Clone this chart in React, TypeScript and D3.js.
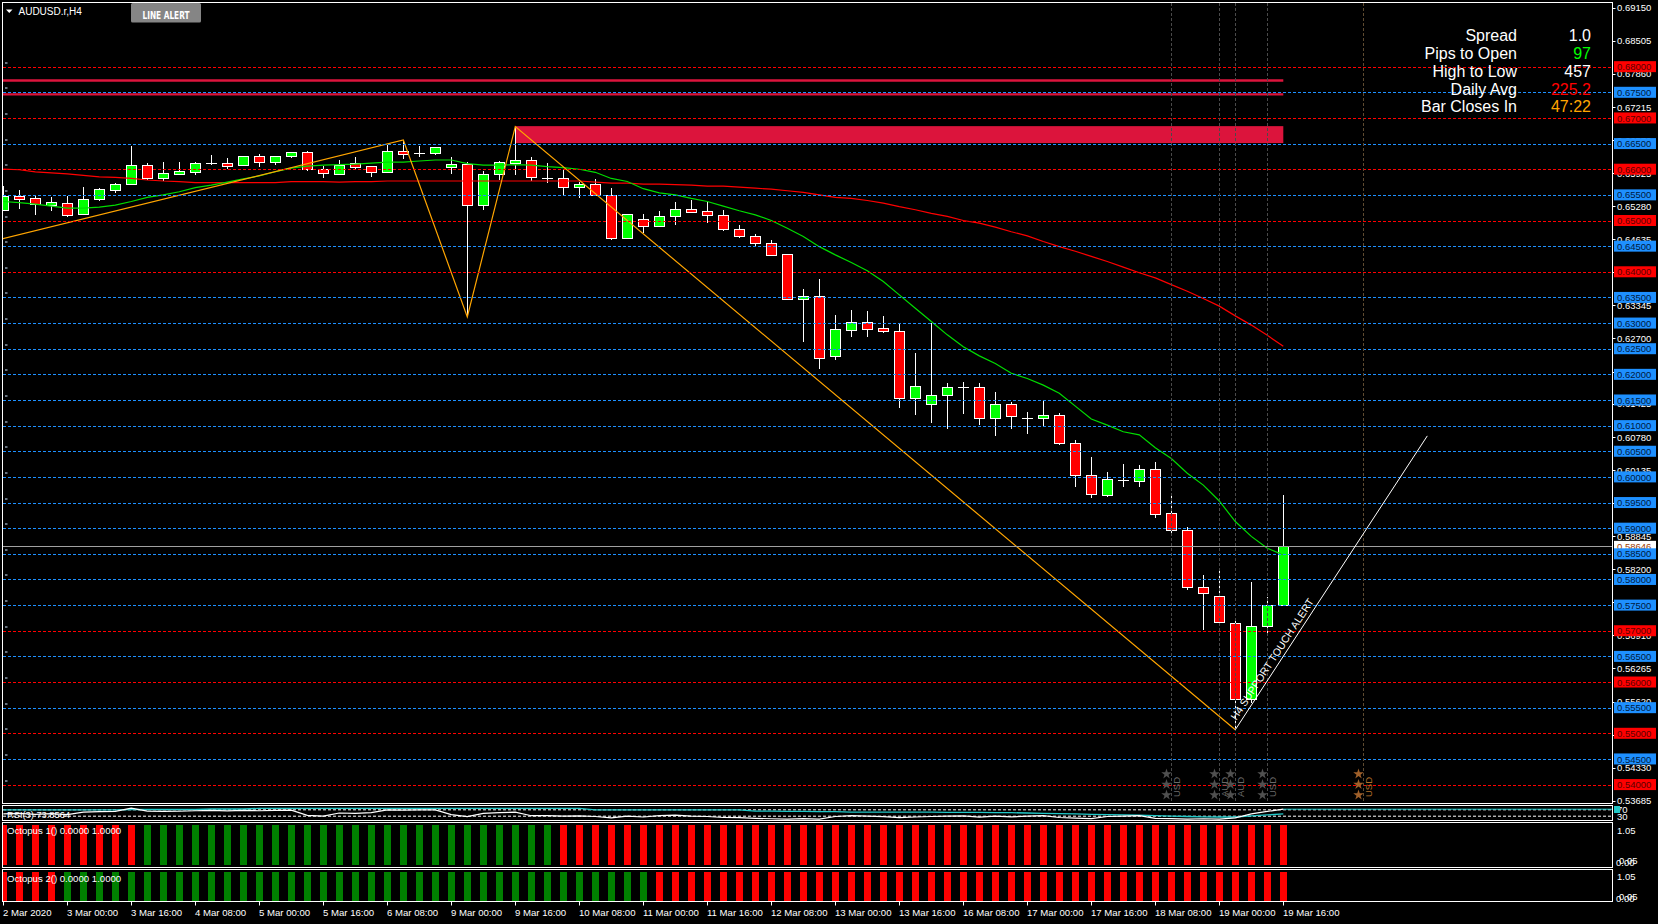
import React from 'react';
import * as d3 from 'd3';

const W = 1658;
const H = 924;
const FONT = "'Liberation Sans', Arial, sans-serif";

// x axis labels, one every 4 H4 bars
const timeLabels = [
  '2 Mar 2020', '3 Mar 00:00', '3 Mar 16:00', '4 Mar 08:00', '5 Mar 00:00', '5 Mar 16:00',
  '6 Mar 08:00', '9 Mar 00:00', '9 Mar 16:00', '10 Mar 08:00', '11 Mar 00:00', '11 Mar 16:00',
  '12 Mar 08:00', '13 Mar 00:00', '13 Mar 16:00', '16 Mar 08:00', '17 Mar 00:00', '17 Mar 16:00',
  '18 Mar 08:00', '19 Mar 00:00', '19 Mar 16:00',
];

const opens = [
  0.6520, 0.6548, 0.6543, 0.6531, 0.6535, 0.6511, 0.6541, 0.6560, 0.6570, 0.6608,
  0.6582, 0.6592, 0.6595, 0.6613, 0.6613, 0.6607, 0.6625, 0.6613, 0.6625, 0.6633,
  0.6600, 0.6592, 0.6612, 0.6607, 0.6596, 0.6636, 0.6631, 0.6631, 0.6604, 0.6610,
  0.6530, 0.6590, 0.6613, 0.6618, 0.6582, 0.6582, 0.6565, 0.6571, 0.6549, 0.6466,
  0.6503, 0.6489, 0.6508, 0.6522, 0.6518, 0.6510, 0.6483, 0.6469, 0.6456, 0.6434,
  0.6346, 0.6352, 0.6235, 0.6288, 0.6303, 0.6290, 0.6284, 0.6153, 0.6142, 0.6159,
  0.6175, 0.6175, 0.6114, 0.6142, 0.6114, 0.6114, 0.6120, 0.6066, 0.6003, 0.5963,
  0.5994, 0.5993, 0.6016, 0.5929, 0.5896, 0.5785, 0.5767, 0.5716, 0.5568, 0.5710,
  0.5750,
];
const highs = [
  0.6567, 0.6560, 0.6548, 0.6545, 0.6548, 0.6565, 0.6563, 0.6573, 0.6645, 0.6612,
  0.6614, 0.6614, 0.6614, 0.6628, 0.6622, 0.6625, 0.6630, 0.6625, 0.6633, 0.6635,
  0.6606, 0.6618, 0.6624, 0.6607, 0.6648, 0.6657, 0.6646, 0.6643, 0.6623, 0.6614,
  0.6596, 0.6616, 0.6683, 0.6623, 0.6612, 0.6599, 0.6576, 0.6581, 0.6563, 0.6512,
  0.6513, 0.6518, 0.6536, 0.6540, 0.6536, 0.6521, 0.6491, 0.6474, 0.6462, 0.6434,
  0.6366, 0.6386, 0.6316, 0.6325, 0.6324, 0.6314, 0.6301, 0.6242, 0.6301, 0.6183,
  0.6185, 0.6183, 0.6166, 0.6147, 0.6126, 0.6149, 0.6124, 0.6071, 0.6039, 0.6010,
  0.6025, 0.6023, 0.6029, 0.5964, 0.5902, 0.5809, 0.5817, 0.5724, 0.5795, 0.5766,
  0.5964,
];
const lows = [
  0.6519, 0.6523, 0.6511, 0.6519, 0.6507, 0.6511, 0.6539, 0.6554, 0.6570, 0.6579,
  0.6578, 0.6592, 0.6589, 0.6609, 0.6601, 0.6607, 0.6605, 0.6609, 0.6621, 0.6597,
  0.6582, 0.6588, 0.6599, 0.6584, 0.6594, 0.6620, 0.6623, 0.6627, 0.6591, 0.6312,
  0.6521, 0.6579, 0.6588, 0.6578, 0.6573, 0.6550, 0.6543, 0.6547, 0.6461, 0.6463,
  0.6475, 0.6488, 0.6492, 0.6515, 0.6496, 0.6480, 0.6465, 0.6451, 0.6433, 0.6346,
  0.6263, 0.6211, 0.6228, 0.6272, 0.6272, 0.6281, 0.6135, 0.6121, 0.6106, 0.6094,
  0.6123, 0.6102, 0.6079, 0.6094, 0.6084, 0.6098, 0.6063, 0.5981, 0.5958, 0.5961,
  0.5981, 0.5981, 0.5919, 0.5891, 0.5780, 0.5701, 0.5716, 0.5507, 0.5559, 0.5690,
  0.5750,
];
const closes = [
  0.6547, 0.6543, 0.6531, 0.6537, 0.6511, 0.6541, 0.6561, 0.6571, 0.6608, 0.6582,
  0.6592, 0.6597, 0.6612, 0.6613, 0.6607, 0.6625, 0.6613, 0.6625, 0.6633, 0.6599,
  0.6592, 0.6609, 0.6605, 0.6596, 0.6636, 0.6631, 0.6631, 0.6643, 0.6610, 0.6530,
  0.6590, 0.6614, 0.6618, 0.6584, 0.6582, 0.6565, 0.6571, 0.6549, 0.6466, 0.6512,
  0.6489, 0.6508, 0.6522, 0.6517, 0.6510, 0.6482, 0.6469, 0.6455, 0.6433, 0.6346,
  0.6352, 0.6231, 0.6288, 0.6303, 0.6290, 0.6284, 0.6153, 0.6177, 0.6159, 0.6175,
  0.6175, 0.6114, 0.6142, 0.6118, 0.6114, 0.6120, 0.6066, 0.6003, 0.5966, 0.5995,
  0.5994, 0.6016, 0.5929, 0.5896, 0.5785, 0.5773, 0.5716, 0.5568, 0.5710, 0.5750,
  0.58646,
];

const fastMA = [
  0.6537, 0.6535, 0.6532, 0.6528, 0.6524, 0.6524, 0.6526, 0.6530, 0.6537, 0.6545,
  0.6550, 0.6556, 0.6564, 0.6569, 0.6575, 0.6581, 0.6587, 0.6595, 0.6602, 0.6606,
  0.6608, 0.6609, 0.6610, 0.6612, 0.6614, 0.6614, 0.6616, 0.6618, 0.6618, 0.6611,
  0.6608, 0.6608, 0.6609, 0.6608, 0.6605, 0.6603, 0.6600, 0.6594, 0.6582, 0.6576,
  0.6562, 0.6554, 0.6550, 0.6543, 0.6537, 0.6528, 0.6519, 0.6511, 0.6500, 0.6485,
  0.6469, 0.6449, 0.6433, 0.6418, 0.6402, 0.6381, 0.6355, 0.6329, 0.6303, 0.6277,
  0.6254, 0.6236, 0.6221, 0.6202, 0.6192, 0.6179, 0.6163, 0.6138, 0.6113, 0.6101,
  0.6088, 0.6082, 0.6057, 0.6036, 0.6007, 0.5984, 0.5953, 0.5913, 0.5884, 0.5861,
  0.5848,
];
const slowMA = [
  0.6600, 0.6599, 0.6595, 0.6593, 0.6591, 0.6588, 0.6585, 0.6584, 0.6582, 0.6579,
  0.6577, 0.6576, 0.6574, 0.6574, 0.6574, 0.6574, 0.6574, 0.6574, 0.6576, 0.6576,
  0.6576, 0.6575, 0.6576, 0.6576, 0.6577, 0.6577, 0.6577, 0.6577, 0.6577, 0.6577,
  0.6577, 0.6577, 0.6577, 0.6577, 0.6577, 0.6577, 0.6577, 0.6575, 0.6573, 0.6573,
  0.6571, 0.6571, 0.6570, 0.6569, 0.6567, 0.6567, 0.6565, 0.6563, 0.6561, 0.6558,
  0.6555, 0.6550, 0.6545, 0.6543, 0.6539, 0.6534, 0.6527, 0.6521, 0.6514, 0.6508,
  0.6500, 0.6495, 0.6487, 0.6478, 0.6470, 0.6459, 0.6449, 0.6440, 0.6430, 0.6420,
  0.6409, 0.6398, 0.6388, 0.6375, 0.6362, 0.6348, 0.6333, 0.6314, 0.6296, 0.6276,
  0.6255,
];

const rsiValues = [
  45, 48, 42, 46, 40, 55, 58, 60, 80, 62,
  60, 61, 64, 66, 63, 67, 64, 66, 68, 35,
  31, 50, 48, 52, 69, 68, 70, 69, 40, 27,
  48, 52, 55, 33, 34, 30, 32, 28, 20, 30,
  25, 33, 37, 30, 28, 22, 21, 17, 14, 12,
  15, 12, 28, 33, 30, 27, 21, 25, 28, 30,
  32, 24, 30, 26, 30, 33, 22, 18, 15, 28,
  30, 34, 17, 15, 12, 14, 12, 20, 45, 60,
  73.86,
];
const rsiSignal = [
  70, 70, 70, 70, 70, 70, 70, 70, 72, 72,
  72, 72, 72, 75, 75, 75, 79, 79, 79, 79,
  79, 79, 79, 79, 79, 79, 79, 79, 79, 79,
  79, 79, 79, 79, 79, 79, 79, 69, 69, 69,
  69, 69, 69, 69, 69, 69, 69, 62, 62, 60,
  60, 58, 58, 56, 56, 56, 55, 55, 55, 54,
  54, 54, 52, 52, 50, 48, 46, 44, 42, 40,
  38, 36, 33, 30, 28, 26, 25, 25, 32, 38,
  44,
];
const rsiLevels = [70, 30];

// [first bar, last bar, direction]
const octopus1Runs = [[0, 8, -1], [9, 34, 1], [35, 80, -1]];
const octopus2Runs = [[0, 3, -1], [4, 40, 1], [41, 80, -1]];

const redLevels = [0.68, 0.67, 0.66, 0.65, 0.64, 0.57, 0.56, 0.55, 0.54];
const blueLevels = [
  0.675, 0.665, 0.655, 0.645, 0.635, 0.63, 0.625, 0.62, 0.615, 0.61,
  0.605, 0.6, 0.595, 0.59, 0.585, 0.58, 0.575, 0.565, 0.555, 0.545,
];
const priceTicks = [
  0.6915, 0.68505, 0.6786, 0.67215, 0.6657, 0.65925, 0.6528, 0.64635, 0.6399, 0.63345,
  0.627, 0.62055, 0.61425, 0.6078, 0.60135, 0.5949, 0.58845, 0.582, 0.57555, 0.5691,
  0.56265, 0.5562, 0.54975, 0.5433, 0.53685,
];
const resistanceLines = [0.6773, 0.6746];
const zone = { fromBar: 32, toBar: 80, top: 0.6684, bottom: 0.6651 };
const zigzag = [
  { bar: -4, price: 0.6434 },
  { bar: 25, price: 0.6657 },
  { bar: 29, price: 0.6312 },
  { bar: 32, price: 0.6683 },
  { bar: 77, price: 0.5507 },
];
const supportLine = [{ bar: 77, price: 0.5507 }, { bar: 89, price: 0.608 }];
const newsEvents = [
  { bar: 73, currency: 'USD', future: false },
  { bar: 76, currency: 'AUD', future: false },
  { bar: 77, currency: 'AUD', future: false },
  { bar: 79, currency: 'USD', future: false },
  { bar: 85, currency: 'USD', future: true },
];
const infoRows = [
  { label: 'Spread', value: '1.0', color: '#ffffff' },
  { label: 'Pips to Open', value: '97', color: '#00ff00' },
  { label: 'High to Low', value: '457', color: '#ffffff' },
  { label: 'Daily Avg', value: '225.2', color: '#ff0000' },
  { label: 'Bar Closes In', value: '47:22', color: '#ffa500' },
];

const expandRuns = (runs: number[][]) => {
  const out: number[] = [];
  runs.forEach(([a, b, v]) => { for (let i = a; i <= b; i++) out[i] = v; });
  return out;
};

export default function App() {
  // panel geometry
  const left = 2.5, right = 1612.5, top = 2.5, mainBottom = 803.5;
  const rsiTop = 805.5, rsiBottom = 820.5;
  const o1Top = 822.5, o1Bottom = 867.5;
  const o2Top = 869.5, o2Bottom = 901.5;

  const x = d3.scaleLinear().domain([0, 80]).range([3.3, 1283.3]);
  const y = d3.scaleLinear().domain([0.55, 0.675]).range([733.3, 92.3]);
  const yRsi = d3.scaleLinear().domain([0, 100]).range([821, 805]);
  const yO1 = d3.scaleLinear().domain([0, 1]).range([865, 825]);
  const yO2 = d3.scaleLinear().domain([0, 1]).range([900.5, 871.5]);

  const bars = d3.range(closes.length);
  const line = d3.line<number>().x((_, i) => x(i)).y(d => y(d));
  const rsiLine = d3.line<number>().x((_, i) => x(i)).y(d => yRsi(d));
  const zigLine = d3.line<{ bar: number; price: number }>().x(d => x(d.bar)).y(d => y(d.price));

  const oct1 = expandRuns(octopus1Runs);
  const oct2 = expandRuns(octopus2Runs);
  const lastClose = closes[closes.length - 1];

  const p1 = supportLine[0], p2 = supportLine[1];
  const sx1 = x(p1.bar), sy1 = y(p1.price), sx2 = x(p2.bar), sy2 = y(p2.price);
  const ang = Math.atan2(sy2 - sy1, sx2 - sx1);
  const ux = Math.cos(ang), uy = Math.sin(ang);
  const nx = Math.sin(ang), ny = -Math.cos(ang);
  const tx = sx1 + ux * 8 + nx * 4, ty = sy1 + uy * 8 + ny * 4;

  const star = d3.symbol(d3.symbolStar, 34)() as string;

  const levelLabel = (p: number, color: string, textColor: string) => (
    <g key={`lab${p}`}>
      <rect x={1614} y={y(p) - 5.5} width={42} height={11} fill={color} />
      <text x={1617} y={y(p) + 3.6} fill={textColor} fontSize={9.5} fontFamily={FONT}>{p.toFixed(5)}</text>
    </g>
  );

  return (
    <svg width={W} height={H} style={{ position: 'absolute', left: 0, top: 0, background: '#000' }}>
      <defs>
        <clipPath id="main"><rect x={3} y={3} width={1609} height={800} /></clipPath>
        <clipPath id="rsi"><rect x={3} y={806} width={1609} height={14} /></clipPath>
        <clipPath id="subs"><rect x={3} y={822} width={1609} height={80} /></clipPath>
      </defs>
      <rect width={W} height={H} fill="#000" />

      <g clipPath="url(#main)">
        {/* zone */}
        <rect x={x(zone.fromBar)} y={y(zone.top)} width={x(zone.toBar) - x(zone.fromBar)}
          height={y(zone.bottom) - y(zone.top)} fill="#dc143c" />

        {/* candles */}
        {bars.map(i => {
          const cx = Math.round(x(i)) + 0.5;
          const o = opens[i], c = closes[i];
          const yt = y(Math.max(o, c)), yb = y(Math.min(o, c));
          const bull = c > o;
          return (
            <g key={`c${i}`} shapeRendering="crispEdges">
              <line x1={cx} x2={cx} y1={y(highs[i])} y2={y(lows[i])} stroke="#fff" />
              {yb - yt < 1.5
                ? <line x1={cx - 5.5} x2={cx + 5.5} y1={Math.round(yt) + 0.5} y2={Math.round(yt) + 0.5} stroke="#fff" />
                : <rect x={cx - 5} y={Math.round(yt) + 0.5} width={10} height={Math.round(yb - yt)}
                    fill={bull ? '#00ff00' : '#ff0000'} stroke="#fff" />}
            </g>
          );
        })}

        {/* moving averages */}
        <path d={line(slowMA) ?? ''} fill="none" stroke="#ff0000" strokeWidth={1.2} />
        <path d={line(fastMA) ?? ''} fill="none" stroke="#00dd00" strokeWidth={1.2} />
        <path d={zigLine(zigzag) ?? ''} fill="none" stroke="#ffa500" strokeWidth={1.2} />

        {/* horizontal levels */}
        {redLevels.map(p => (
          <line key={`r${p}`} x1={3} x2={right} y1={Math.round(y(p)) + 0.5} y2={Math.round(y(p)) + 0.5}
            stroke="#ff0000" strokeDasharray="3,2" />
        ))}
        {blueLevels.map(p => (
          <line key={`b${p}`} x1={3} x2={right} y1={Math.round(y(p)) + 0.5} y2={Math.round(y(p)) + 0.5}
            stroke="#1e90ff" strokeDasharray="3,2" />
        ))}
        {[...redLevels, ...blueLevels].map(p => (
          <line key={`m${p}`} x1={5} x2={7.5} y1={Math.round(y(p)) - 4} y2={Math.round(y(p)) - 4} stroke="#cfe6ff" />
        ))}
        {resistanceLines.map(p => (
          <line key={`s${p}`} x1={3} x2={x(80)} y1={y(p)} y2={y(p)} stroke="#dc143c" strokeWidth={2.3} />
        ))}

        {/* current price */}
        <line x1={3} x2={right} y1={Math.round(y(lastClose)) + 0.5} y2={Math.round(y(lastClose)) + 0.5} stroke="#a0a0a0" />

        {/* news events */}
        {newsEvents.map(ev => {
          const ex = Math.round(x(ev.bar)) + 0.5;
          const col = ev.future ? '#b0702a' : '#6a6a6a';
          return (
            <g key={`e${ev.bar}`}>
              <line x1={ex} x2={ex} y1={3} y2={mainBottom} stroke={ev.future ? '#5e4a30' : '#4a4a4a'} strokeDasharray="3,2" />
              {[774, 784.5, 795].map(sy => (
                <path key={sy} d={star} transform={`translate(${ex - 5},${sy})`} fill={ev.future ? '#a0602a' : '#505050'} />
              ))}
              <text transform={`translate(${ex + 8.5},797) rotate(-90)`} fill={col} fontSize={9.5} fontFamily={FONT}>{ev.currency}</text>
            </g>
          );
        })}

        {/* support trendline */}
        <line x1={sx1} y1={sy1} x2={sx2} y2={sy2} stroke="#fff" />
        <text transform={`translate(${tx},${ty}) rotate(${(ang * 180) / Math.PI})`} fill="#fff"
          fontSize={10.5} fontFamily={FONT}>H4 SUPPORT TOUCH ALERT</text>
      </g>

      {/* title and button */}
      <path d="M6,9.5 L12.5,9.5 L9.25,13 Z" fill="#fff" />
      <text x={18.5} y={14.5} fill="#fff" fontSize={10} fontFamily={FONT}>AUDUSD.r,H4</text>
      <rect x={131} y={3} width={70} height={19.5} rx={1.5} fill="#858585" />
      <text x={166} y={18.5} fill="#fff" fontSize={11} fontWeight="bold" textAnchor="middle"
        fontFamily="'DejaVu Sans Condensed', 'DejaVu Sans', sans-serif" textLength={47} lengthAdjust="spacingAndGlyphs">LINE ALERT</text>

      {/* info panel */}
      {infoRows.map((r, k) => (
        <g key={r.label} fontFamily={FONT} fontSize={16}>
          <text x={1517} y={41 + k * 17.85} fill="#fff" textAnchor="end">{r.label}</text>
          <text x={1591} y={41 + k * 17.85} fill={r.color} textAnchor="end">{r.value}</text>
        </g>
      ))}

      {/* RSI panel */}
      <g clipPath="url(#rsi)">
        {rsiLevels.map(l => (
          <line key={l} x1={3} x2={right} y1={yRsi(l)} y2={yRsi(l)} stroke="#fff" strokeDasharray="3,2" />
        ))}
        <path d={rsiLine(rsiSignal) ?? ''} fill="none" stroke="#20c8c8" strokeWidth={1.3} />
        <path d={rsiLine(rsiValues) ?? ''} fill="none" stroke="#fff" strokeWidth={1.2} />
        <line x1={x(80)} x2={right} y1={yRsi(rsiValues[80])} y2={yRsi(rsiValues[80])} stroke="#20c8c8" />
      </g>
      <text x={7} y={817.5} fill="#fff" fontSize={9.3} fontFamily={FONT}>RSI(3) 73.8564</text>

      {/* octopus panels */}
      <g clipPath="url(#subs)" shapeRendering="crispEdges">
        {bars.map(i => (
          <rect key={`o1${i}`} x={Math.round(x(i)) - 3} y={yO1(1)} width={7} height={yO1(0) - yO1(1)}
            fill={oct1[i] > 0 ? '#008000' : '#ff0000'} />
        ))}
        {bars.map(i => (
          <rect key={`o2${i}`} x={Math.round(x(i)) - 3} y={yO2(1)} width={7} height={yO2(0) - yO2(1)}
            fill={oct2[i] > 0 ? '#008000' : '#ff0000'} />
        ))}
      </g>
      <text x={7} y={834} fill="#fff" fontSize={9.6} fontFamily={FONT}>Octopus 1() 0.0000 1.0000</text>
      <text x={7} y={881.5} fill="#fff" fontSize={9.6} fontFamily={FONT}>Octopus 2() 0.0000 1.0000</text>

      {/* panel frames */}
      <g fill="none" stroke="#fff" shapeRendering="crispEdges">
        <rect x={left} y={top} width={right - left} height={mainBottom - top} />
        <rect x={left} y={rsiTop} width={right - left} height={rsiBottom - rsiTop} />
        <rect x={left} y={o1Top} width={right - left} height={o1Bottom - o1Top} />
        <rect x={left} y={o2Top} width={right - left} height={o2Bottom - o2Top} />
      </g>

      {/* price axis */}
      {priceTicks.map(p => (
        <g key={`t${p}`}>
          <line x1={right} x2={right + 3} y1={Math.round(y(p)) + 0.5} y2={Math.round(y(p)) + 0.5} stroke="#fff" />
          <text x={1617} y={y(p) + 3.6} fill="#fff" fontSize={9.5} fontFamily={FONT}>{p.toFixed(5)}</text>
        </g>
      ))}
      <rect x={1614} y={y(lastClose) - 5.5} width={42} height={11} fill="#fff" />
      <text x={1617} y={y(lastClose) + 3.6} fill="#a04000" fontSize={9.5} fontFamily={FONT}>{lastClose.toFixed(5)}</text>
      {redLevels.map(p => levelLabel(p, '#ff0000', '#5a0000'))}
      {blueLevels.map(p => levelLabel(p, '#1e90ff', '#001a40'))}

      {/* sub-window scales */}
      <g fill="#fff" fontSize={9.5} fontFamily={FONT}>
        <text x={1617} y={yRsi(70) + 3}>70</text>
        <text x={1617} y={yRsi(30) + 4}>30</text>
        <text x={1617} y={833.5}>1.05</text>
        <text x={1616} y={866}>0.00</text>
        <text x={1619} y={863.5}>0.05</text>
        <text x={1617} y={880}>1.05</text>
        <text x={1616} y={902}>0.00</text>
        <text x={1619} y={899.5}>0.05</text>
      </g>
      <rect x={1614} y={806} width={6} height={7} fill="#20c8c8" />

      {/* time axis */}
      {timeLabels.map((t, k) => {
        const tx0 = Math.round(x(k * 4)) + 0.5;
        return (
          <g key={t}>
            <line x1={tx0} x2={tx0} y1={o2Bottom} y2={o2Bottom + 4} stroke="#fff" />
            <text x={tx0 - 0.5} y={916} fill="#fff" fontSize={9.6} fontFamily={FONT}>{t}</text>
          </g>
        );
      })}
    </svg>
  );
}
